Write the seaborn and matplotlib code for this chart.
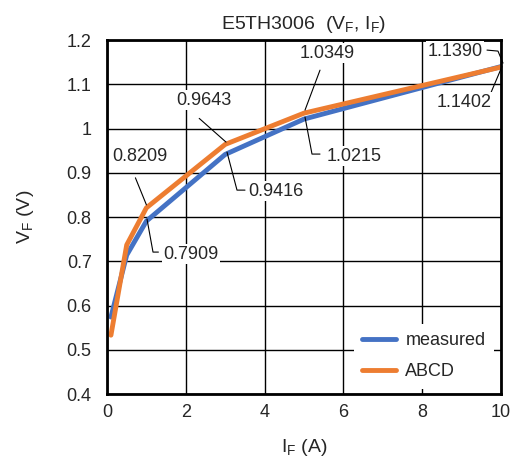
import matplotlib
matplotlib.use("Agg")
import matplotlib.pyplot as plt
import seaborn as sns
import pandas as pd
import numpy as np

current = [0.1, 0.5, 1, 3, 5, 10]
measured = [0.574, 0.714, 0.7909, 0.9416, 1.0215, 1.1402]
abcd = [0.533, 0.737, 0.8209, 0.9643, 1.0349, 1.1390]
series_names = ["measured", "ABCD"]
colors = ["#4472C4", "#ED7D31"]
xticks = [0, 2, 4, 6, 8, 10]
yticks = [0.4, 0.5, 0.6, 0.7, 0.8, 0.9, 1.0, 1.1, 1.2]
ytick_labels = ["0.4", "0.5", "0.6", "0.7", "0.8", "0.9", "1", "1.1", "1.2"]

df = pd.DataFrame({
    "I": current * 2,
    "V": measured + abcd,
    "series": [series_names[0]] * len(current) + [series_names[1]] * len(current),
})

sns.set_style("white")
plt.rcParams["font.family"] = ["Liberation Sans", "DejaVu Sans"]

fig = plt.figure(figsize=(5.12, 4.61), dpi=100)
ax = fig.add_axes([0.209, 0.1453, 0.7695, 0.7677])

sns.lineplot(data=df, x="I", y="V", hue="series", palette=colors,
             linewidth=3.5, ax=ax, sort=False)

ax.set_xlim(0, 10)
ax.set_ylim(0.4, 1.2)
ax.set_xticks(xticks)
ax.set_xticklabels([str(t) for t in xticks], fontsize=13)
ax.set_yticks(yticks)
ax.set_yticklabels(ytick_labels, fontsize=13)
ax.tick_params(axis="y", length=0, pad=11)
ax.tick_params(axis="x", length=0, pad=7)
ax.grid(True, color="black", linewidth=1)
ax.set_axisbelow(True)
for s in ax.spines.values():
    s.set_color("black")
    s.set_linewidth(2)

ax.set_xlabel("I$_\\mathregular{F}$ (A)", fontsize=14, labelpad=12)
ax.set_ylabel("V$_\\mathregular{F}$ (V)", fontsize=14, labelpad=22)
ax.set_title("E5TH3006  (V$_\\mathregular{F}$, I$_\\mathregular{F}$)", fontsize=14, pad=8)

box = dict(facecolor="white", edgecolor="none", pad=1)


def to_data(px, py):
    inv = ax.transData.inverted()
    return inv.transform((px, py))


def label(x, y, txt, text_off, leader_offs, ha="center"):
    # offsets in pixels (right, up) relative to the data point
    p = ax.transData.transform((x, y))
    pts = np.array([to_data(p[0] + dx, p[1] + dy) for dx, dy in leader_offs])
    ax.plot(pts[:, 0], pts[:, 1], color="black", linewidth=0.8,
            clip_on=False, zorder=4)
    tx, ty = to_data(p[0] + text_off[0], p[1] + text_off[1])
    ax.text(tx, ty, txt, fontsize=13, ha=ha, va="center", bbox=box, zorder=5)


label(current[2], abcd[2], "0.8209", (-7, 51), [(0, 3), (-11, 30)])
label(current[3], abcd[3], "0.9643", (-21, 44), [(0.8, 2.3), (-26, 26)])
label(current[4], abcd[4], "1.0349", (23, 60), [(1, 3), (16, 43)])
label(current[5], abcd[5], "1.1390", (-46, 16), [(2, 4), (-3, 16), (-14, 17)])
label(current[2], measured[2], "0.7909", (16.6, -33), [(0.6, 2), (6.6, -31), (12, -31)], ha="left")
label(current[3], measured[3], "0.9416", (22.8, -37), [(1.8, 2.3), (11.8, -35.7), (19.8, -35.7)], ha="left")
label(current[4], measured[4], "1.0215", (23, -37), [(1, 2), (8, -35), (16, -35)], ha="left")
label(current[5], measured[5], "1.1402", (-37, -35.5), [(1, 0), (-10, -26)])

leg = ax.legend(loc="lower right", bbox_to_anchor=(0.995, 0.0), fontsize=13,
                frameon=True, framealpha=1, edgecolor="white", facecolor="white",
                handlelength=1.9, handletextpad=0.5, labelspacing=0.8,
                borderpad=0.45, borderaxespad=0.3)
leg.get_frame().set_linewidth(0)
leg.set_zorder(6)

fig.savefig("out.png", dpi=100)
